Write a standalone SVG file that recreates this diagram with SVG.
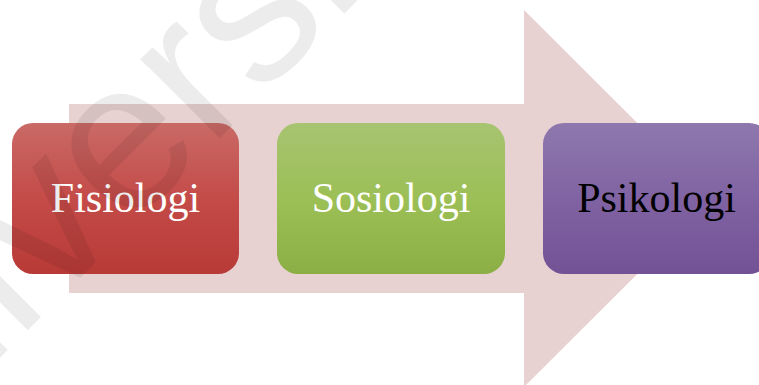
<svg xmlns="http://www.w3.org/2000/svg" width="759" height="385" viewBox="0 0 759 385">
<defs>
<linearGradient id="gRed" x1="0" y1="0" x2="0" y2="1">
<stop offset="0" stop-color="#c96a66"/>
<stop offset="0.5" stop-color="#c44b48"/>
<stop offset="1" stop-color="#b83a37"/>
</linearGradient>
<linearGradient id="gGreen" x1="0" y1="0" x2="0" y2="1">
<stop offset="0" stop-color="#a7c471"/>
<stop offset="0.5" stop-color="#9cbf56"/>
<stop offset="1" stop-color="#8bae45"/>
</linearGradient>
<linearGradient id="gPurple" x1="0" y1="0" x2="0" y2="1">
<stop offset="0" stop-color="#8e78ad"/>
<stop offset="0.5" stop-color="#8063a3"/>
<stop offset="1" stop-color="#735195"/>
</linearGradient>
</defs>
<style>
.box{stroke:none}
.lbl{font-family:"Liberation Serif","Times New Roman",serif;font-size:42px;text-anchor:middle}
.wm{font-family:"Liberation Sans",Arial,sans-serif;font-size:212px;fill:#000;fill-opacity:0.075}
</style>
<rect width="759" height="385" fill="#ffffff"/>
<g id="connectors">
<path d="M69,104 H524 V10 L713,198.5 L524,387 V293 H69 Z" fill="#e8d1d1"/>
</g>
<g id="node-fisiologi">
<rect class="box" x="12" y="123" width="227" height="151" rx="21" fill="url(#gRed)"/>
<text class="lbl" x="125.5" y="212" fill="#ffffff">Fisiologi</text>
</g>
<g id="node-sosiologi">
<rect class="box" x="277" y="123" width="228" height="151" rx="21" fill="url(#gGreen)"/>
<text class="lbl" x="391" y="212" fill="#ffffff">Sosiologi</text>
</g>
<g id="node-psikologi">
<rect class="box" x="543" y="123" width="227" height="151" rx="21" fill="url(#gPurple)"/>
<text class="lbl" x="656.5" y="212" fill="#000000">Psikologi</text>
</g>
<text class="wm" transform="translate(-174,532) rotate(-45)">Universitas</text>
</svg>
